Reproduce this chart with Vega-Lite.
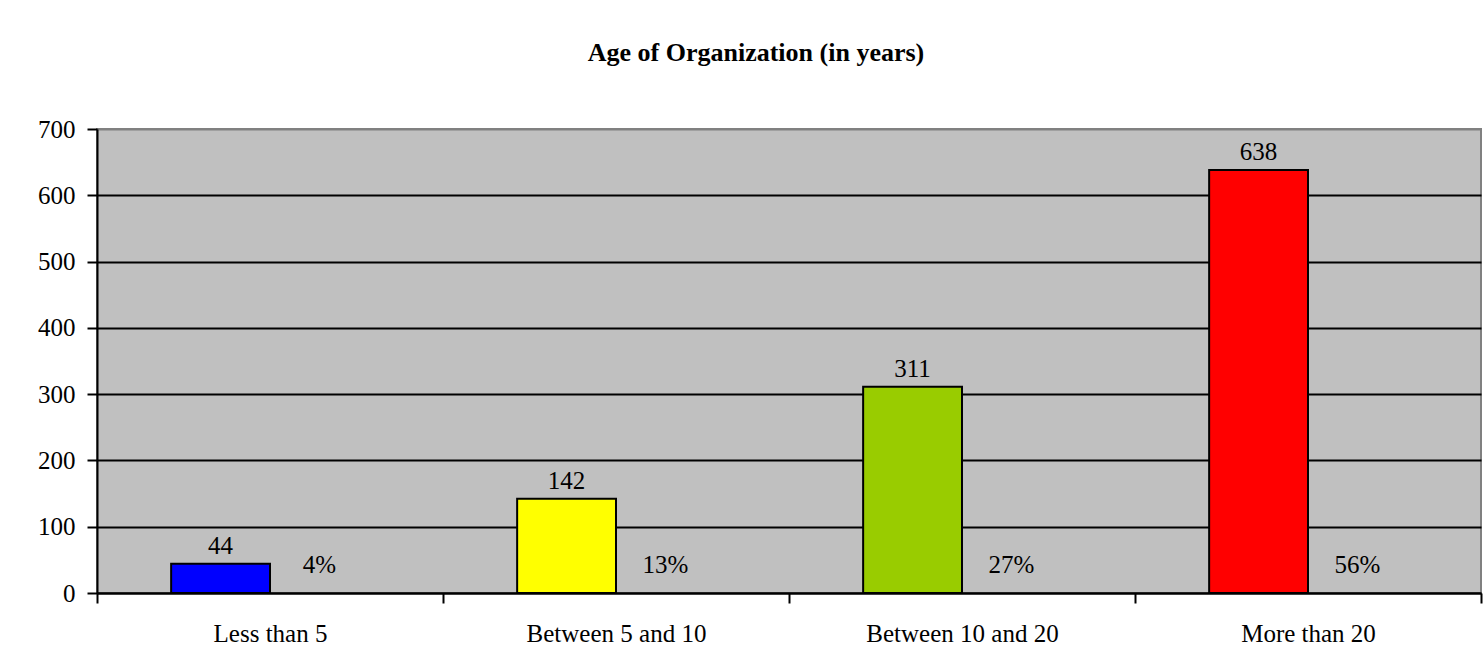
{
  "$schema": "https://vega.github.io/schema/vega-lite/v6.json",
  "width": 1384,
  "height": 464,
  "autosize": {"type": "none"},
  "padding": {"left": 97, "top": 129, "right": 3, "bottom": 79},
  "background": "white",
  "title": {
    "text": "Age of Organization (in years)",
    "font": "Liberation Serif",
    "fontSize": 26,
    "fontWeight": "bold",
    "color": "black",
    "anchor": "middle",
    "dx": -33,
    "offset": 51
  },
  "data": {
    "values": [
      {"age": "Less than 5", "count": 44, "share": 0.04},
      {"age": "Between 5 and 10", "count": 142, "share": 0.13},
      {"age": "Between 10 and 20", "count": 311, "share": 0.27},
      {"age": "More than 20", "count": 638, "share": 0.56}
    ]
  },
  "transform": [{"fold": ["count", "share"], "as": ["series", "value"]}],
  "encoding": {
    "x": {
      "field": "age",
      "type": "nominal",
      "sort": ["Less than 5", "Between 5 and 10", "Between 10 and 20", "More than 20"],
      "scale": {"paddingInner": 0, "paddingOuter": 0},
      "axis": {
        "title": null,
        "labelAngle": 0,
        "labelLimit": 0,
        "tickBand": "extent",
        "tickSize": 10,
        "tickWidth": 2,
        "tickColor": "black",
        "domainColor": "black",
        "domainWidth": 2,
        "labelPadding": 18,
        "grid": false
      }
    },
    "xOffset": {
      "field": "series",
      "type": "nominal",
      "scale": {"domain": ["count", "share"], "paddingInner": 0, "paddingOuter": 0.75}
    },
    "y": {
      "field": "value",
      "type": "quantitative",
      "scale": {"domain": [0, 700], "nice": false},
      "axis": {
        "title": null,
        "values": [0, 100, 200, 300, 400, 500, 600, 700],
        "grid": true,
        "gridColor": {"condition": {"test": "datum.value === 700", "value": "#808080"}, "value": "black"},
        "gridWidth": 2,
        "tickSize": 10,
        "tickWidth": 2,
        "tickColor": "black",
        "domainColor": "black",
        "domainWidth": 2,
        "labelPadding": 12
      }
    }
  },
  "layer": [
    {
      "transform": [{"filter": "datum.series === 'count'"}],
      "mark": {"type": "bar", "stroke": "black", "strokeWidth": 2},
      "encoding": {
        "color": {
          "field": "age",
          "type": "nominal",
          "scale": {
            "domain": ["Less than 5", "Between 5 and 10", "Between 10 and 20", "More than 20"],
            "range": ["#0000FF", "#FFFF00", "#99CC00", "#FF0000"]
          },
          "legend": null
        }
      }
    },
    {
      "transform": [{"filter": "datum.series === 'count'"}],
      "mark": {"type": "text", "font": "Liberation Serif", "fontSize": 25, "baseline": "alphabetic", "dy": -10, "color": "black"},
      "encoding": {"text": {"field": "value", "type": "quantitative", "format": "d"}}
    },
    {
      "transform": [{"filter": "datum.series === 'share'"}],
      "mark": {"type": "text", "font": "Liberation Serif", "fontSize": 25, "baseline": "alphabetic", "dy": -20, "color": "black"},
      "encoding": {"text": {"field": "value", "type": "quantitative", "format": ".0%"}}
    }
  ],
  "config": {
    "view": {"fill": "#C0C0C0", "stroke": "#808080", "strokeWidth": 2},
    "axis": {
      "labelFont": "Liberation Serif",
      "labelFontSize": 25,
      "labelColor": "black"
    }
  }
}
